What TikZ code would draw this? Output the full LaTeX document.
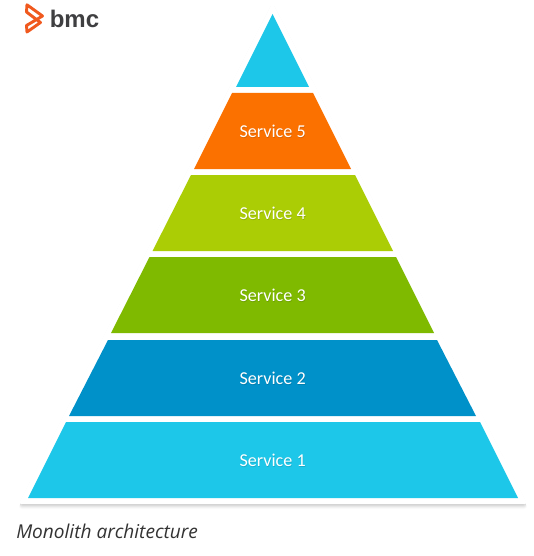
\documentclass[tikz,border=0pt]{standalone}
\usepackage{fontspec}
\setmainfont{Open Sans}
\newfontfamily\logofont{Liberation Sans}
\newfontfamily\labelfont{Carlito}
\definecolor{cyanA}{HTML}{1DC7E9}
\definecolor{blueA}{HTML}{0091C9}
\definecolor{greenA}{HTML}{7FBA00}
\definecolor{limeA}{HTML}{ABCD05}
\definecolor{orangeA}{HTML}{FB7100}
\definecolor{logoO}{HTML}{F0591E}
\definecolor{logoG}{HTML}{3F3F41}
\definecolor{capG}{HTML}{333333}
\tikzset{
  x=0.75pt,y=-0.75pt,
  layer/.style={fill=#1,draw=none},
  svc/.style={text=white,font=\labelfont\fontsize{13.6pt}{15pt}\selectfont,inner sep=0pt},
  svcsh/.style={text=black,opacity=0.13,font=\labelfont\fontsize{13.6pt}{15pt}\selectfont,inner sep=0pt},
  logoline/.style={draw=logoO,line width=2.2pt,line join=round,line cap=round,fill=none}
}
\begin{document}
\begin{tikzpicture}
\useasboundingbox (0,0) rectangle (533,556);
% soft shadow
\foreach \o/\a in {7/0.02,6/0.03,5/0.04,4/0.05,3/0.06,2/0.07}{
  \fill[black,opacity=\a,rounded corners=3] (272.5,{2+\o*0.3}) -- ({526.5+\o*0.25},{502+\o}) -- ({19.5-\o*0.25},{502+\o}) -- cycle;
}
% white outline
\fill[white,rounded corners=2] (272.5,2) -- (527.5,504) -- (18.5,504) -- cycle;
% layers
\fill[layer=cyanA] (272.5,14) -- (309,87) -- (236,87) -- cycle;
\fill[layer=orangeA] (232,93) -- (313,93) -- (351,169) -- (194,169) -- cycle;
\fill[layer=limeA] (191,175) -- (355,175) -- (393,251) -- (152.5,251) -- cycle;
\fill[layer=greenA] (149.5,257) -- (396,257) -- (434,333) -- (111,333) -- cycle;
\fill[layer=blueA] (108,340) -- (437,340) -- (476,416) -- (69,416) -- cycle;
\fill[layer=cyanA] (66,422) -- (480,422) -- (518,498) -- (28,498) -- cycle;
% labels
\foreach \n/\yy in {5/131.3,4/213.3,3/295.3,2/378.3,1/460.3}{
  \node[svcsh] (sh\n) at (273.1,\yy+0.8) {Service \n};
  \node[svc] (s\n) at (272.6,\yy) {Service \n};
}
\node[anchor=west,inner sep=0pt,text=capG,font=\fontsize{14.3pt}{16pt}\selectfont\itshape] (cap) at (16,531) {Monolith architecture};
% logo
\draw[logoline] (27,4.8) -- (42.5,16) -- (26.5,25.5) -- (27,32) -- (40.5,22.5) -- (26.5,12) -- cycle;
\node[anchor=west,inner sep=0pt,text=logoG,font=\logofont\bfseries\fontsize{18pt}{20pt}\selectfont] (logo) at (49.5,19) {bmc};
\end{tikzpicture}
\end{document}
